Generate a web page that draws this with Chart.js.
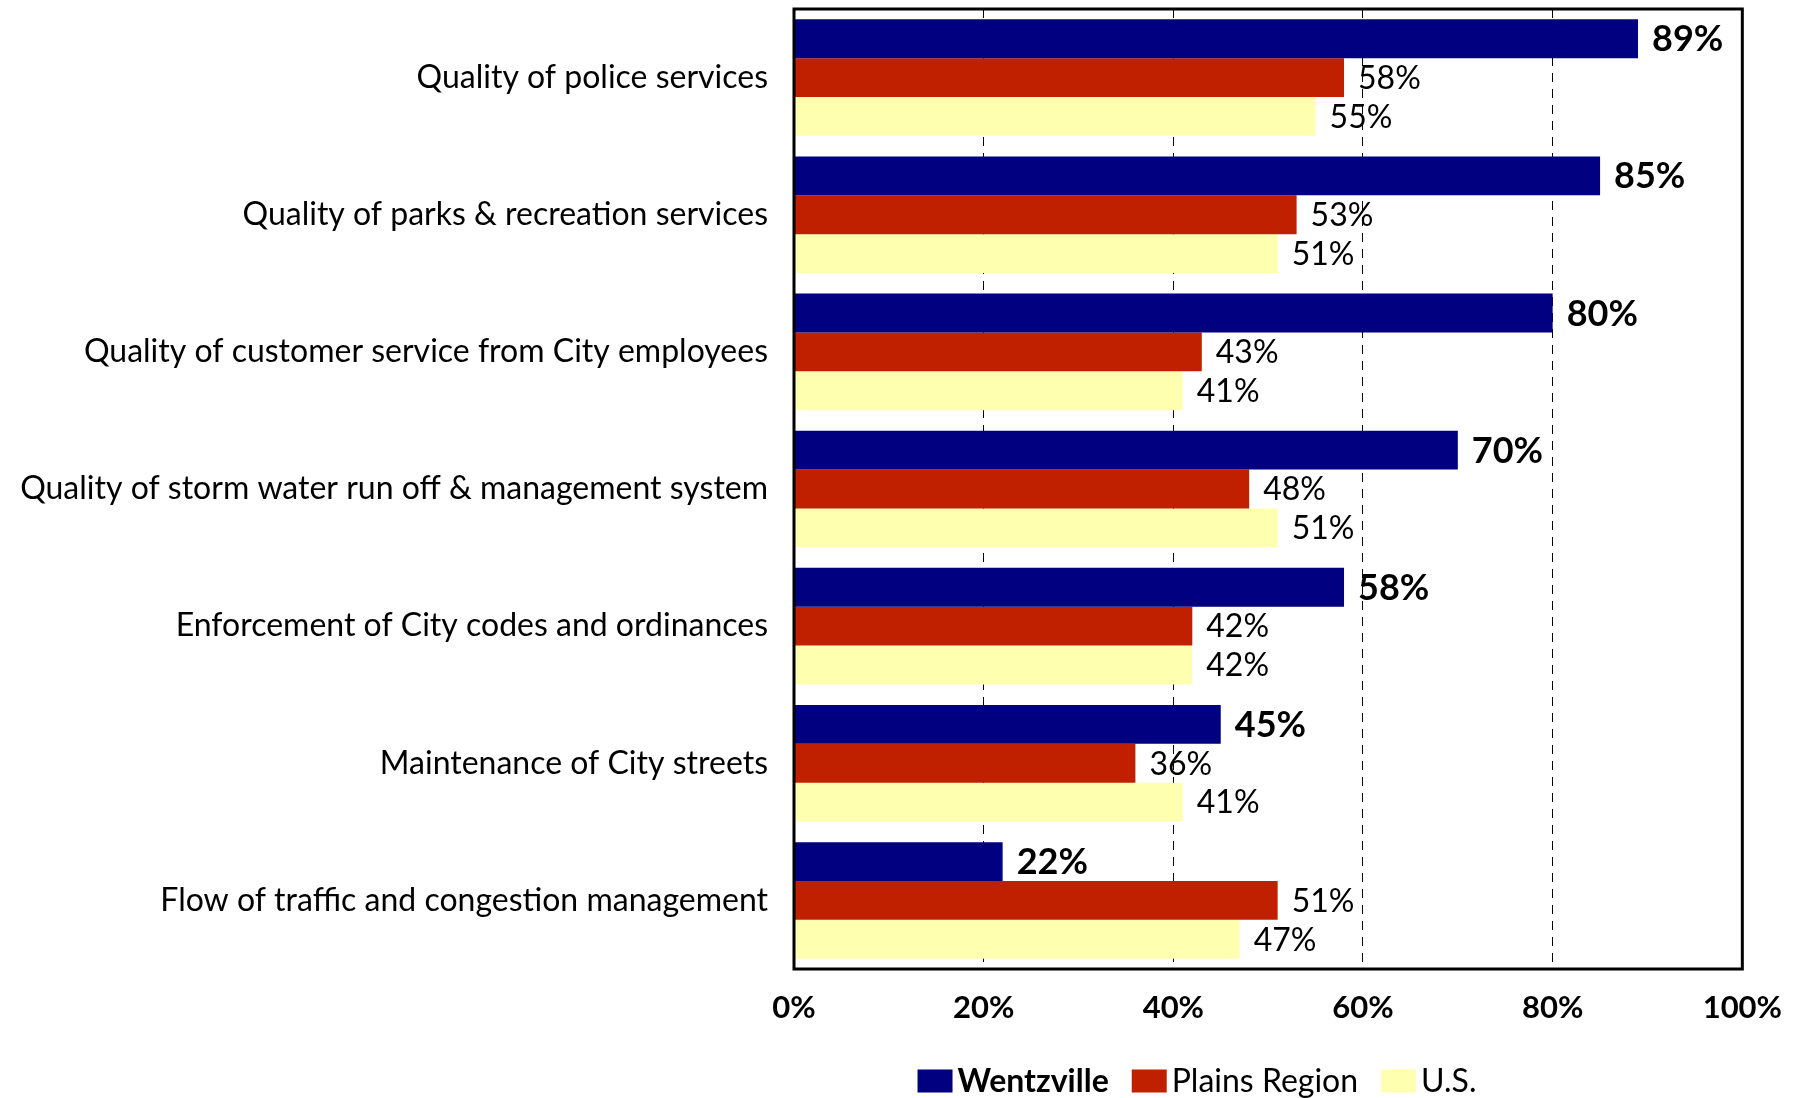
<!DOCTYPE html>
<html>
<head>
<meta charset="utf-8">
<script src="https://cdn.jsdelivr.net/npm/chart.js@4/dist/chart.umd.min.js"></script>
<style>
    html, body { margin: 0; padding: 0; background: #fff; }
    #wrap { width: 1802px; height: 1098px; position: relative; }
</style>
</head>
<body>
<div id="wrap"><canvas id="chart"></canvas></div>
<script>
const categories = [
    "Quality of police services",
    "Quality of parks & recreation services",
    "Quality of customer service from City employees",
    "Quality of storm water run off & management system",
    "Enforcement of City codes and ordinances",
    "Maintenance of City streets",
    "Flow of traffic and congestion management",
];
const seriesNames = ["Wentzville", "Plains Region", "U.S."];
const wentzville = [89, 85, 80, 70, 58, 45, 22];
const plainsRegion = [58, 53, 43, 48, 42, 36, 51];
const usValues = [55, 51, 41, 51, 42, 41, 47];
const xTicks = [0, 20, 40, 60, 80, 100];

const colors = ["#000080", "#C02000", "#FFFFB0"];
const FONT = "Lato, 'Open Sans', sans-serif";

// value labels at the end of each bar
const valueLabels = {
    id: "valueLabels",
    afterDatasetsDraw(chart) {
        const ctx = chart.ctx;
        ctx.save();
        ctx.textBaseline = "middle";
        ctx.textAlign = "left";
        ctx.fillStyle = "#000";
        chart.data.datasets.forEach((ds, di) => {
            const meta = chart.getDatasetMeta(di);
            ctx.font = (di == 0 ? "bold 36px " : "32px ") + FONT;
            meta.data.forEach((bar, i) => {
                ctx.fillText(ds.data[i] + "%", bar.x + 14, bar.y + 1);
            });
        });
        ctx.restore();
    }
};

// black frame round the plot area
const plotFrame = {
    id: "plotFrame",
    afterDraw(chart) {
        const a = chart.chartArea;
        const ctx = chart.ctx;
        ctx.save();
        ctx.strokeStyle = "#000";
        ctx.lineWidth = 3;
        ctx.strokeRect(a.left, a.top, a.right - a.left, a.bottom - a.top);
        ctx.restore();
    }
};

// legend with bold first entry
const bottomLegend = {
    id: "bottomLegend",
    afterDraw(chart) {
        const ctx = chart.ctx;
        const boxW = 35, boxH = 23, gap = 5, spacing = 23;
        const y = 1081;
        const fonts = ["bold 32px " + FONT, "32px " + FONT, "32px " + FONT];
        ctx.save();
        let widths = seriesNames.map((n, i) => { ctx.font = fonts[i]; return ctx.measureText(n).width; });
        let total = widths.reduce((s, w) => s + boxW + gap + w, 0) + spacing * (seriesNames.length - 1);
        let x = 1197 - total / 2;
        ctx.textBaseline = "middle";
        seriesNames.forEach((n, i) => {
            ctx.fillStyle = colors[i];
            ctx.fillRect(x, y - boxH / 2, boxW, boxH);
            x += boxW + gap;
            ctx.font = fonts[i];
            ctx.fillStyle = "#000";
            ctx.fillText(n, x, y + 1);
            x += widths[i] + spacing;
        });
        ctx.restore();
    }
};

const chartOptions = {
    type: "bar",
    data: {
        labels: categories,
        datasets: [
            { label: seriesNames[0], data: wentzville, backgroundColor: colors[0] },
            { label: seriesNames[1], data: plainsRegion, backgroundColor: colors[1] },
            { label: seriesNames[2], data: usValues, backgroundColor: colors[2] },
        ],
    },
    options: {
        indexAxis: "y",
        responsive: true,
        maintainAspectRatio: false,
        animation: false,
        datasets: {
            bar: { categoryPercentage: 0.85, barPercentage: 1.0 },
        },
        layout: {
            padding: { left: 0, right: 57, top: 9, bottom: 0 },
        },
        plugins: {
            legend: { display: false },
            tooltip: { enabled: false },
        },
        scales: {
            x: {
                min: 0,
                max: 100,
                afterBuildTicks(scale) {
                    scale.ticks = xTicks.map(v => ({ value: v }));
                },
                afterFit(scale) { scale.height = 129; },
                ticks: {
                    padding: 20,
                    color: "#000",
                    font: { family: FONT, size: 31, weight: "bold" },
                    callback: v => v + "%",
                },
                grid: {
                    drawTicks: false,
                    color: "#000",
                    lineWidth: 1,
                },
                border: { display: false, dash: [9, 7] },
            },
            y: {
                afterFit(scale) {
                    scale.width = 794;
                    scale.paddingTop = 0;
                    scale.paddingBottom = 0;
                },
                ticks: {
                    padding: 26,
                    color: "#000",
                    font: { family: FONT, size: 32 },
                },
                grid: { display: false, drawTicks: false },
                border: { display: false },
            },
        },
    },
    plugins: [valueLabels, plotFrame, bottomLegend],
};

new Chart("chart", chartOptions);
</script>
</body>
</html>
